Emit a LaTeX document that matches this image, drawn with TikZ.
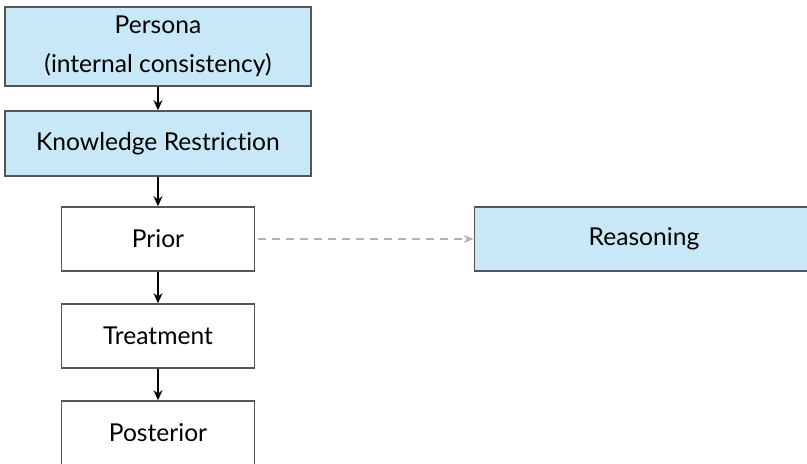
\documentclass[tikz,border=0pt]{standalone}
\usepackage{fontspec}
\setmainfont{Lato}[Ligatures={NoCommon}]
\usetikzlibrary{positioning,arrows.meta}

\definecolor{stageblue}{RGB}{200,232,248}
\definecolor{boxline}{RGB}{85,85,85}

\tikzset{
	stage/.style={draw=boxline,line width=0.8pt,align=center,inner sep=0pt,
		font={\fontsize{12.3}{19.5}\selectfont}},
	widestage/.style={stage,fill=stageblue,minimum width=153pt},
	smallstage/.style={stage,minimum width=96.5pt,minimum height=32pt},
	flow/.style={-{Stealth[length=5pt,width=4.5pt]},line width=0.8pt,black},
	aside/.style={-{Stealth[length=5pt,width=4pt]},line width=0.8pt,gray!60,
		dash pattern=on 4pt off 3pt,shorten <=1.5pt}
}

\begin{document}
\begin{tikzpicture}[x=0.5pt,y=0.5pt]
\useasboundingbox (0,0) rectangle (807,-464);

% main chain
\node[widestage,minimum height=39.5pt] (persona) at (158,-46.5) {Persona\\(internal consistency)};
\node[widestage,minimum height=32.5pt,below=11.7pt of persona] (knowledge) {Knowledge Restriction};
\node[smallstage,below=14.7pt of knowledge] (prior) {Prior};
\node[smallstage,below=15.7pt of prior] (treatment) {Treatment};
\node[smallstage,below=15.7pt of treatment] (posterior) {Posterior};

% side branch
\node[stage,fill=stageblue,minimum width=169.5pt,minimum height=32pt,right=109.2pt of prior] (reasoning) {Reasoning};

\draw[flow] (persona) -- (knowledge);
\draw[flow] (knowledge) -- (prior);
\draw[flow] (prior) -- (treatment);
\draw[flow] (treatment) -- (posterior);
\draw[aside] (prior) -- (reasoning);
\end{tikzpicture}
\end{document}
